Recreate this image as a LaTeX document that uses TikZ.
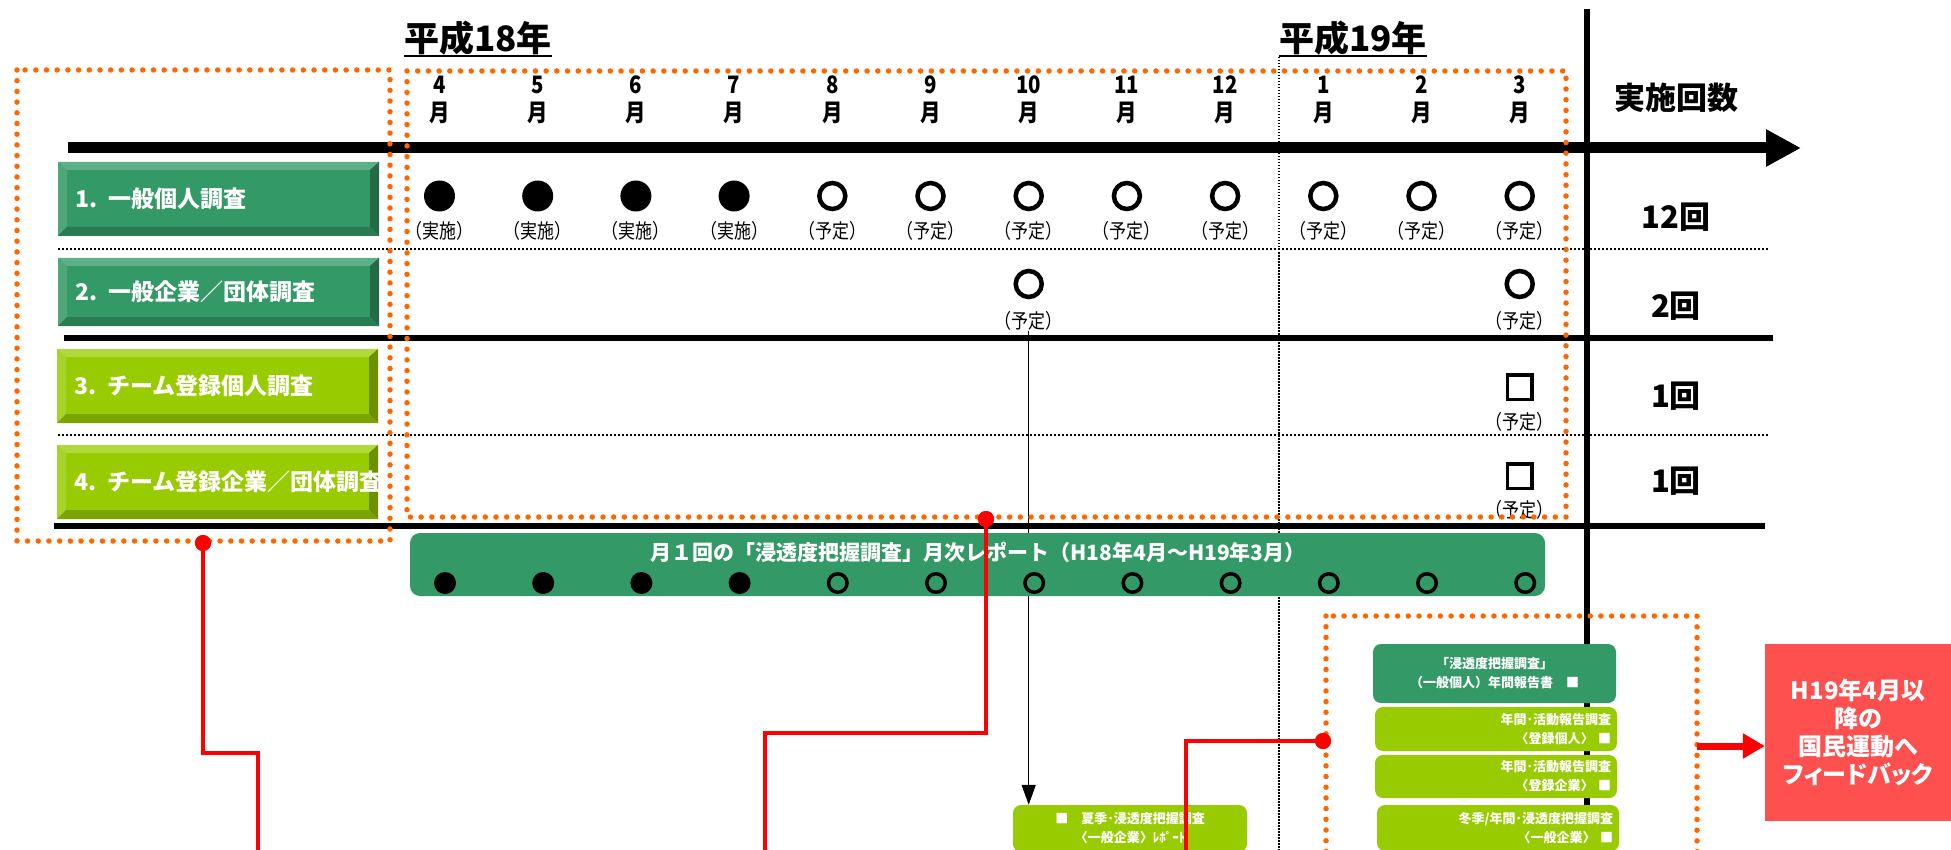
\documentclass[tikz,border=0pt]{standalone}
\usepackage{fontspec}
\setmainfont{Noto Sans CJK JP}
\newfontfamily\cjkcond[FakeStretch=0.85]{Noto Sans CJK JP}
\newfontfamily\cjkpalt[RawFeature=+palt]{Noto Sans CJK JP}
\usetikzlibrary{arrows.meta}
\definecolor{gmain}{HTML}{339966}
\definecolor{gtop}{HTML}{5CAF87}
\definecolor{gleft}{HTML}{4EA679}
\definecolor{gright}{HTML}{236B47}
\definecolor{gbot}{HTML}{2A7B53}
\definecolor{ymain}{HTML}{99CC00}
\definecolor{ytop}{HTML}{B2D93C}
\definecolor{yleft}{HTML}{A6D32A}
\definecolor{yright}{HTML}{6C9000}
\definecolor{ybot}{HTML}{7BA400}
\definecolor{orng}{HTML}{FF6600}
\definecolor{redbox}{HTML}{FF5050}
\definecolor{redline}{HTML}{FF0000}
\begin{document}
\begin{tikzpicture}[x=1pt,y=-1pt,
  ttl/.style={anchor=west,inner sep=0pt,font=\bfseries\fontsize{35}{35}\selectfont},
  mon/.style={inner sep=0pt,align=center,font=\cjkcond\bfseries\fontsize{24}{28}\selectfont},
  lab/.style={inner sep=0pt,font=\cjkcond\fontsize{20}{20}\selectfont},
  cnt/.style={inner sep=0pt,font=\bfseries\fontsize{31}{31}\selectfont},
  fullc/.style={circle,fill=black,minimum size=31pt,inner sep=0pt},
  openc/.style={circle,draw=black,line width=4.5pt,minimum size=26pt,inner sep=0pt},
  sqr/.style={rectangle,draw=black,line width=3.5pt,minimum size=24.5pt,inner sep=0pt},
  barfull/.style={circle,fill=black,minimum size=22pt,inner sep=0pt},
  baropen/.style={circle,draw=black,line width=3.5pt,minimum size=18.5pt,inner sep=0pt},
  bdot/.style={line width=2.5pt,dash pattern=on 2.2pt off 1.8pt},
  vdot/.style={line width=1.2pt,dash pattern=on 1.5pt off 1.5pt},
  odot/.style={draw=orng,line width=5.5pt,line cap=round,dash pattern=on 0pt off 10.7pt},
  redl/.style={draw=redline,line width=4.5pt},
  reddot/.style={circle,fill=redline,minimum size=16pt,inner sep=0pt},
  rowbox/.style={minimum width=321pt,text width=287pt,align=left,inner xsep=17pt,inner ysep=0pt,
    text=white,font=\bfseries\fontsize{23}{23}\selectfont},
  bev/.style n args={5}{fill=#1,path picture={
    \fill[#2] (path picture bounding box.north west) -- (path picture bounding box.north east)
      -- ([xshift=-9pt,yshift=-8pt]path picture bounding box.north east)
      -- ([xshift=9pt,yshift=-8pt]path picture bounding box.north west) -- cycle;
    \fill[#3] (path picture bounding box.north west) -- ([xshift=9pt,yshift=-8pt]path picture bounding box.north west)
      -- ([xshift=9pt,yshift=9pt]path picture bounding box.south west)
      -- (path picture bounding box.south west) -- cycle;
    \fill[#4] (path picture bounding box.north east) -- (path picture bounding box.south east)
      -- ([xshift=-9pt,yshift=9pt]path picture bounding box.south east)
      -- ([xshift=-9pt,yshift=-8pt]path picture bounding box.north east) -- cycle;
    \fill[#5] (path picture bounding box.south west) -- (path picture bounding box.south east)
      -- ([xshift=-9pt,yshift=9pt]path picture bounding box.south east)
      -- ([xshift=9pt,yshift=9pt]path picture bounding box.south west) -- cycle;
  }},
  gbev/.style={bev={gmain}{gtop}{gleft}{gright}{gbot}},
  ybev/.style={bev={ymain}{ytop}{yleft}{yright}{ybot}},
  smallbox/.style={rounded corners=8pt,inner xsep=6pt,inner ysep=0pt,text=white,
    font=\bfseries\fontsize{13}{19}\selectfont}
]
\useasboundingbox (0,0) rectangle (1951,850);

% titles
\node[ttl] (t18) at (404,38) {平成18年};
\draw[line width=2pt] ([yshift=-1pt]t18.south west) -- ([yshift=-1pt]t18.south east);
\node[ttl] (t19) at (1279,38) {平成19年};
\draw[line width=2pt] ([yshift=-1pt]t19.south west) -- ([yshift=-1pt]t19.south east);

% vertical guides
\coordinate (vd1) at (1279,57); \coordinate (vd2) at (1279,850);
\draw[vdot] (vd1) -- (vd2);
\coordinate (tv1) at (1587,9); \coordinate (tv2) at (1587,850);
\draw[line width=5.5pt] (tv1) -- (tv2);

% top time arrow
\coordinate (ta1) at (68,148); \coordinate (ta2) at (1801,148);
\draw[line width=11pt,-{Triangle[length=35pt,width=35pt]}] (ta1) -- (ta2);

% separators
\coordinate (s1a) at (58,249); \coordinate (s1b) at (1769,249);
\draw[bdot] (s1a) -- (s1b);
\coordinate (s2a) at (64,338); \coordinate (s2b) at (1773,338);
\draw[line width=6pt] (s2a) -- (s2b);
\coordinate (s3a) at (58,435); \coordinate (s3b) at (1769,435);
\draw[bdot] (s3a) -- (s3b);
\coordinate (s4a) at (54,526); \coordinate (s4b) at (1765,526);
\draw[line width=6pt] (s4a) -- (s4b);

% row boxes
\node[rowbox,gbev,minimum height=74pt] (r1) at (218.5,199) {\rlap{1. 一般個人調査}};
\node[rowbox,gbev,minimum height=68pt] (r2) at (218.5,292) {\rlap{2. 一般企業／団体調査}};
\node[rowbox,ybev,minimum height=74pt] (r3) at (217.5,386) {\rlap{3. チーム登録個人調査}};
\node[rowbox,ybev,minimum height=74pt] (r4) at (217.5,482) {\rlap{4. チーム登録企業／団体調査}};

% month headers, row 1
\foreach \m [count=\i from 0] in {4,5,6,7,8,9,10,11,12,1,2,3}{
  \pgfmathsetmacro\xx{439.5+98.2*\i}
  \node[mon] (m\i) at (\xx,100) {\m\\月};
  \ifnum\i<4
    \node[fullc] (a\i) at (\xx,196) {};
    \node[lab] (al\i) at (\xx,231) {（実施）};
  \else
    \node[openc] (a\i) at (\xx,196) {};
    \node[lab] (al\i) at (\xx,231) {（予定）};
  \fi
}

% row 2
\node[openc] (b6) at (1028.7,284) {};
\node[lab] (bl6) at (1028.7,321) {（予定）};
\node[openc] (b11) at (1519.7,284) {};
\node[lab] (bl11) at (1519.7,321) {（予定）};
% row 3, 4
\node[sqr] (c11) at (1519.7,387) {};
\node[lab] (cl11) at (1519.7,422) {（予定）};
\node[sqr] (d11) at (1519.7,476) {};
\node[lab] (dl11) at (1519.7,510) {（予定）};

% counts
\node[cnt] (cnth) at (1676,98) {実施回数};
\node[cnt] (cnt1) at (1676,217) {12回};
\node[cnt] (cnt2) at (1676,306) {2回};
\node[cnt] (cnt3) at (1676,396) {1回};
\node[cnt] (cnt4) at (1676,481) {1回};

% summer report box and arrow into it
\node[smallbox,fill=ymain,minimum width=234pt,minimum height=47pt,align=center] (sbox) at (1130,828.5)
  {■　夏季･浸透度把握調査\\〈一般企業〉ﾚﾎﾟｰﾄ};
\draw[line width=1.5pt,-{Triangle[length=20pt,width=14pt]}] (bl6.south) -- (sbox.north -| bl6);

% monthly report bar
\node[fill=gmain,rounded corners=10pt,minimum width=1135pt,minimum height=63pt,inner sep=0pt] (bar) at (977.5,564.5) {};
\node[inner sep=0pt,text=white,font=\bfseries\fontsize{21}{21}\selectfont] (bart) at (978,552)
  {月１回の「浸透度把握調査」月次レポート（H18年4月～H19年3月）};
\foreach \i in {0,...,11}{
  \pgfmathsetmacro\xx{445+98.2*\i}
  \ifnum\i<4
    \node[barfull] (p\i) at (\xx,583) {};
  \else
    \node[baropen] (p\i) at (\xx,583) {};
  \fi
}

% annual report stack
\node[smallbox,fill=gmain,minimum width=243pt,minimum height=59pt,align=center] (cb1) at (1494.5,673.5)
  {「浸透度把握調査」\\（一般個人）年間報告書　■};
\node[smallbox,fill=ymain,text width=230pt,minimum height=44pt,align=right] (cb2) at (1496,729)
  {年間･活動報告調査\\〈登録個人〉\ ■};
\node[smallbox,fill=ymain,text width=230pt,minimum height=43pt,align=right] (cb3) at (1496,776.5)
  {年間･活動報告調査\\〈登録企業〉\ ■};
\node[smallbox,fill=ymain,text width=230pt,minimum height=46pt,align=right] (cb4) at (1498,828)
  {冬季/年間･浸透度把握調査\\〈一般企業〉\ ■};

% feedback box
\node[fill=redbox,minimum width=186pt,minimum height=177pt,inner sep=0pt,align=center,text=white,
  font=\cjkpalt\bfseries\fontsize{24}{28}\selectfont] (rb) at (1858,732.5)
  {H19年4月以\\降の\\国民運動へ\\フィードバック};

% orange dotted frames
\draw[odot] (17,70) rectangle (390,541);
\draw[odot] (407,71) rectangle (1566,517);
\draw[odot] (1326,616) rectangle (1697,880);

% red connectors
\node[reddot] (d1) at (203,543) {};
\coordinate (k1) at (258,753); \coordinate (e1) at (258,860);
\draw[redl] (d1.center) -- (d1 |- k1) -- (k1) -- (e1);
\node[reddot] (d1) at (203,543) {};
\node[reddot] (d2) at (986,519) {};
\coordinate (k2) at (765,733); \coordinate (e2) at (765,860);
\draw[redl] (d2.center) -- (d2 |- k2) -- (k2) -- (e2);
\node[reddot] (d2) at (986,519) {};
\node[reddot] (d3) at (1323,741) {};
\coordinate (k3) at (1186,741); \coordinate (e3) at (1186,860);
\draw[redl] (d3.center) -- (k3) -- (e3);
\node[reddot] (d3) at (1323,741) {};

% arrow to feedback box
\coordinate (fa) at (1697,746);
\draw[draw=redline,line width=7pt,-{Triangle[length=22pt,width=24pt]}] (fa) -- (fa -| rb.west);
\end{tikzpicture}
\end{document}
